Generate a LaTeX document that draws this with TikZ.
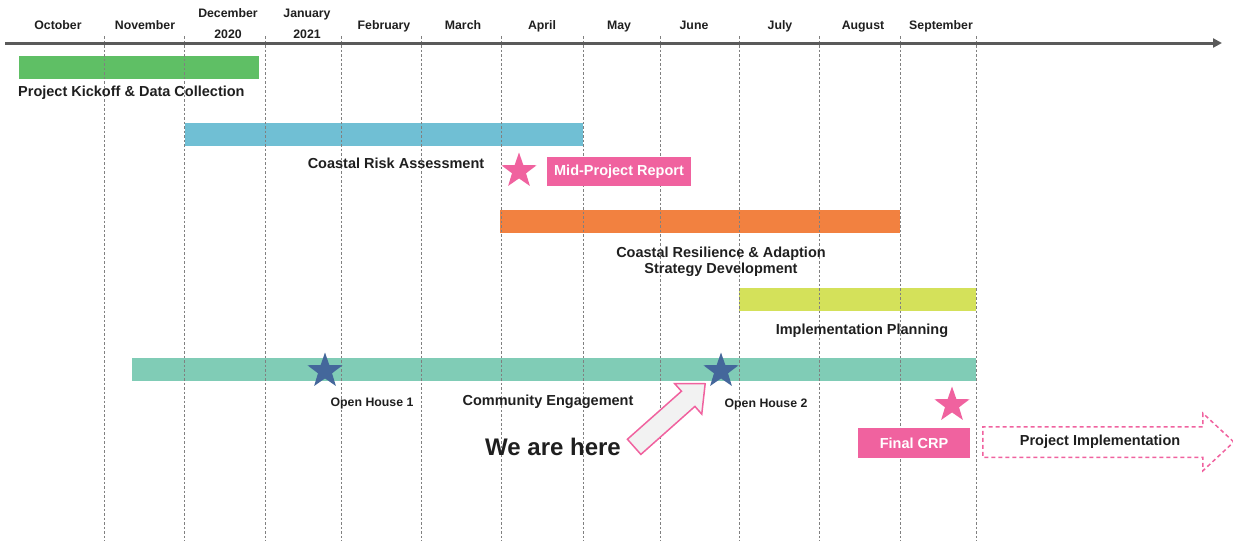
\documentclass[tikz,border=0pt]{standalone}
\usepackage{fontspec}
\setmainfont{Liberation Sans}
\usetikzlibrary{shapes.geometric,shapes.arrows,arrows.meta,positioning}

\definecolor{ink}{HTML}{1F1F1F}
\definecolor{axisc}{HTML}{5A5A5A}
\definecolor{gridc}{HTML}{808080}
\definecolor{kickc}{HTML}{5FBF65}
\definecolor{riskc}{HTML}{70BFD4}
\definecolor{resilc}{HTML}{F28140}
\definecolor{planc}{HTML}{D4E15A}
\definecolor{engc}{HTML}{80CCB6}
\definecolor{starc}{HTML}{44679B}
\definecolor{pinkc}{HTML}{F0629F}
\definecolor{herec}{HTML}{F2F2F2}

\begin{document}
\begin{tikzpicture}[x=1pt,y=-1pt,
    bar/.style={rectangle,inner sep=0pt,minimum height=23pt},
    lbl/.style={font=\fontsize{14.5}{16}\selectfont\bfseries,text=ink,inner sep=0pt,anchor=base},
    small/.style={font=\fontsize{12.3}{21}\selectfont\bfseries,text=ink,inner sep=0pt,align=center,anchor=base},
    mstar/.style={star,star points=5,star point ratio=2.5,minimum size=37pt,inner sep=0pt},
    pinkbox/.style={rectangle,fill=pinkc,inner sep=0pt,lbl,anchor=center,text=white}]

  \useasboundingbox (0,0) rectangle (1233,544);

  % month labels
  \begin{scope}[every node/.style={small}]
    \node (oct) at (58,29.4)  {October};
    \node (nov) at (145,29.4) {November};
    \node (dec) at (228,38.4) {December\\2020};
    \node (jan) at (307,38.4) {January\\2021};
    \node (feb) at (384,29.4) {February};
    \node (mar) at (463,29.4) {March};
    \node (apr) at (542,29.4) {April};
    \node (may) at (619,29.4) {May};
    \node (jun) at (694,29.4) {June};
    \node (jul) at (780,29.4) {July};
    \node (aug) at (863,29.4) {August};
    \node (sep) at (941,29.4) {September};
  \end{scope}

  % bars
  \node[bar,fill=kickc,minimum width=240pt]  (kick)  at (139,67)    {};
  \node[bar,fill=riskc,minimum width=398pt]  (risk)  at (384,134.5) {};
  \node[bar,fill=resilc,minimum width=400pt] (resil) at (700,221)   {};
  \node[bar,fill=planc,minimum width=237pt]  (plan)  at (857.5,299.5) {};
  \node[bar,fill=engc,minimum width=844pt]   (eng)   at (554,369.5) {};

  % grid
  \draw[gridc,line width=0.8pt,dash pattern=on 2.5pt off 2pt]
    (104,36) -- (104,541) (184,36) -- (184,541) (265,36) -- (265,541)
    (341,36) -- (341,541) (421,36) -- (421,541) (501,36) -- (501,541)
    (583,36) -- (583,541) (660,36) -- (660,541) (739,36) -- (739,541)
    (819,36) -- (819,541) (900,36) -- (900,541) (976,36) -- (976,541);

  % time axis
  \coordinate (axl) at (5,43);
  \coordinate (axr) at (1222,43);
  \draw[axisc,line width=3pt,-{Triangle[length=9pt,width=9pt]}] (axl) -- (axr);

  % bar labels
  \node[lbl,anchor=base west] (kicklbl) at (18,96.2) {Project Kickoff \& Data Collection};
  \node[lbl] (risklbl)  at (396,168.2) {Coastal Risk Assessment};
  \node[lbl,align=center] (resillbl) at (721,273.2)
    {Coastal Resilience \& Adaption\\Strategy Development};
  \node[lbl] (planlbl)  at (862,334.2) {Implementation Planning};
  \node[lbl] (englbl)   at (548,405.2) {Community Engagement};

  % milestones
  \node[mstar,fill=pinkc] (midstar)   at (519,171) {};
  \node[pinkbox,minimum width=144pt,minimum height=29pt] (midrep) at (619,171.5) {Mid-Project Report};
  \node[mstar,fill=starc] (oh1) at (325,371) {};
  \node[mstar,fill=starc] (oh2) at (721,371) {};
  \node[small] (oh1lbl) at (372,406.4) {Open House 1};
  \node[small] (oh2lbl) at (766,407.4) {Open House 2};
  \node[mstar,fill=pinkc] (finstar)   at (952,405) {};
  \node[pinkbox,minimum width=112pt,minimum height=30pt] (final) at (914,443) {Final CRP};

  % we are here
  \node[single arrow,draw=pinkc,fill=herec,line width=1.5pt,rotate=41.6,anchor=tip,
        minimum height=95pt,inner xsep=0pt,inner ysep=9.4pt,
        single arrow head extend=10.3pt,single arrow tip angle=84] (pointer) at (706,383) {};
  \node[lbl,font=\fontsize{24}{26}\selectfont\bfseries] (here) at (553,455.6) {We are here};

  % implementation
  \node[single arrow,lbl,anchor=tail,draw=pinkc,line width=1.5pt,dash pattern=on 4pt off 3pt,
        text height=10pt,text depth=3pt,inner ysep=8pt,inner xsep=0pt,
        minimum height=251pt,single arrow head extend=13.5pt,single arrow tip angle=86]
        (impl) at (982,442) {Project Implementation};

\end{tikzpicture}
\end{document}
